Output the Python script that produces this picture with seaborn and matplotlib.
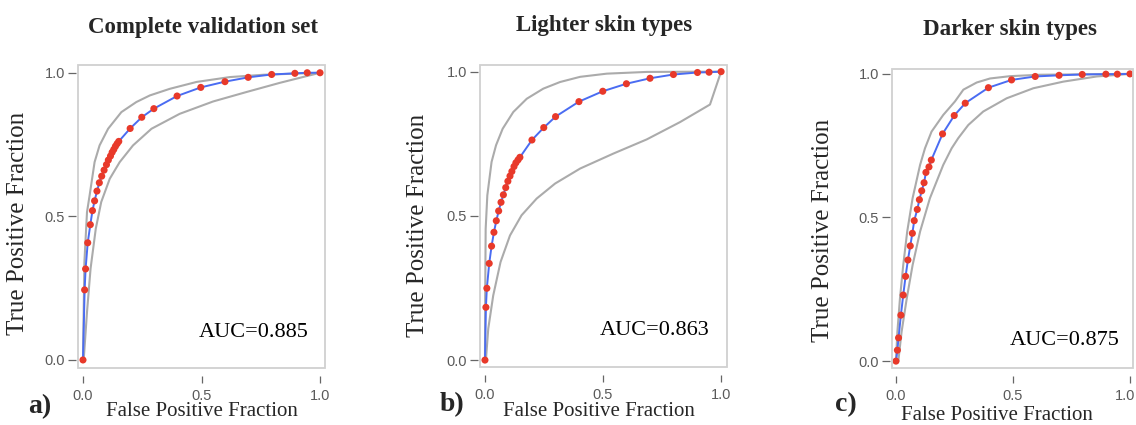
import numpy as np
import pandas as pd
import matplotlib
matplotlib.use('Agg')
import matplotlib.pyplot as plt
import matplotlib.transforms as mtransforms
from matplotlib.patches import Rectangle
import seaborn as sns

# ---- data ----
titles = ['Complete validation set', 'Lighter skin types', 'Darker skin types']
letters = ['a)', 'b)', 'c)']
auc_labels = ['AUC=0.885', 'AUC=0.863', 'AUC=0.875']

# a) complete validation set
fpr_a = [0, 0.007, 0.011, 0.020, 0.031, 0.040, 0.049, 0.059, 0.069, 0.079, 0.089, 0.099,
         0.107, 0.116, 0.123, 0.130, 0.137, 0.144, 0.151, 0.199, 0.248, 0.299, 0.397,
         0.497, 0.599, 0.697, 0.796, 0.894, 0.946, 1.0]
tpr_a = [0, 0.244, 0.317, 0.408, 0.471, 0.520, 0.554, 0.588, 0.617, 0.640, 0.661, 0.680,
         0.696, 0.710, 0.723, 0.733, 0.744, 0.753, 0.761, 0.806, 0.845, 0.875, 0.919,
         0.949, 0.969, 0.984, 0.994, 0.998, 1.0, 1.0]
up_x_a = [0, 0.006, 0.017, 0.028, 0.049, 0.070, 0.106, 0.162, 0.225, 0.282, 0.366, 0.479, 0.620, 0.761, 1.0]
up_y_a = [0, 0.341, 0.515, 0.573, 0.689, 0.747, 0.805, 0.863, 0.898, 0.921, 0.944, 0.968, 0.985, 0.993, 1.0]
lo_x_a = [0.003, 0.017, 0.032, 0.054, 0.077, 0.113, 0.155, 0.211, 0.289, 0.408, 0.549, 0.690, 0.831, 1.0]
lo_y_a = [0, 0.167, 0.318, 0.457, 0.550, 0.631, 0.689, 0.747, 0.805, 0.857, 0.900, 0.933, 0.965, 1.0]

# b) lighter skin types
fpr_b = [0, 0.004, 0.008, 0.018, 0.028, 0.038, 0.048, 0.058, 0.068, 0.078, 0.088, 0.097,
         0.106, 0.114, 0.123, 0.131, 0.140, 0.148, 0.199, 0.249, 0.299, 0.398, 0.499,
         0.599, 0.699, 0.798, 0.900, 0.949, 1.0]
tpr_b = [0, 0.183, 0.249, 0.335, 0.395, 0.443, 0.483, 0.517, 0.547, 0.573, 0.598, 0.620,
         0.638, 0.654, 0.671, 0.684, 0.694, 0.703, 0.763, 0.806, 0.844, 0.896, 0.932,
         0.958, 0.977, 0.990, 0.997, 0.998, 1.0]
up_x_b = [0, 0.001, 0.003, 0.010, 0.028, 0.047, 0.075, 0.120, 0.177, 0.247, 0.318, 0.403, 0.516, 0.685, 1.0]
up_y_b = [0, 0.224, 0.455, 0.571, 0.687, 0.745, 0.802, 0.860, 0.906, 0.941, 0.964, 0.982, 0.993, 0.999, 1.0]
lo_x_b = [0.004, 0.014, 0.035, 0.066, 0.106, 0.155, 0.219, 0.297, 0.403, 0.544, 0.685, 0.826, 0.953, 1.0]
lo_y_b = [0, 0.109, 0.224, 0.340, 0.432, 0.502, 0.560, 0.612, 0.664, 0.716, 0.765, 0.825, 0.886, 1.0]

# c) darker skin types
fpr_c = [0, 0.006, 0.011, 0.021, 0.031, 0.041, 0.051, 0.061, 0.070, 0.078, 0.091, 0.100,
         0.110, 0.120, 0.128, 0.141, 0.151, 0.199, 0.249, 0.296, 0.395, 0.494, 0.595,
         0.697, 0.796, 0.897, 0.946, 1.0]
tpr_c = [0, 0.038, 0.081, 0.160, 0.230, 0.295, 0.352, 0.401, 0.445, 0.489, 0.528, 0.562,
         0.593, 0.621, 0.657, 0.676, 0.700, 0.791, 0.855, 0.898, 0.952, 0.979, 0.991,
         0.995, 0.998, 0.999, 0.999, 1.0]
up_x_c = [0, 0.006, 0.017, 0.031, 0.048, 0.071, 0.103, 0.124, 0.152, 0.202, 0.252, 0.288, 0.345, 0.402, 0.487, 0.615, 1.0]
up_y_c = [0, 0.102, 0.218, 0.334, 0.451, 0.567, 0.683, 0.741, 0.799, 0.857, 0.904, 0.945, 0.970, 0.984, 0.992, 0.997, 1.0]
lo_x_c = [0.010, 0.024, 0.046, 0.071, 0.103, 0.145, 0.202, 0.238, 0.266, 0.309, 0.373, 0.473, 0.587, 0.715, 0.858, 1.0]
lo_y_c = [0, 0.102, 0.218, 0.334, 0.451, 0.567, 0.683, 0.741, 0.776, 0.822, 0.869, 0.915, 0.950, 0.973, 0.991, 1.0]

panels = [
    (fpr_a, tpr_a, up_x_a, up_y_a, lo_x_a, lo_y_a),
    (fpr_b, tpr_b, up_x_b, up_y_b, lo_x_b, lo_y_b),
    (fpr_c, tpr_c, up_x_c, up_y_c, lo_x_c, lo_y_c),
]

# ---- layout (pixels of the 1136x425 canvas) ----
W, H = 1136, 425
boxes = [(78, 65, 325, 368), (480, 65, 727, 367), (892, 69, 1133, 368)]
xlims = [(-0.021, 1.021), (-0.021, 1.025), (-0.017, 1.013)]
ylims = [(-0.028, 1.027), (-0.024, 1.023), (-0.024, 1.017)]
title_pos = [(203, 27), (604, 25), (1010, 30)]
ylab_pos = [(18, 223), (418, 225), (823, 230)]
xlab_pos = [(202, 412), (599, 411), (997, 416)]
letter_pos = [(40, 407), (452, 405), (846, 405)]
auc_pos = [(0.95, 0.097), (0.953, 0.104), (0.957, 0.073)]

sns.set_style('white')
plt.rcParams['font.family'] = ['Liberation Serif', 'DejaVu Serif']

blue = '#4a6cf2'
red = '#e8392a'
gray = '#ababab'
tick_gray = '#5a5a5a'

fig = plt.figure(figsize=(W / 100, H / 100), dpi=100)

for i, (fpr, tpr, ux, uy, lx, ly) in enumerate(panels):
    l, t, r, b = boxes[i]
    ax = fig.add_axes([l / W, 1 - b / H, (r - l) / W, (b - t) / H])

    sns.lineplot(x=ux, y=uy, sort=False, estimator=None, color=gray, lw=1.5, ax=ax)
    sns.lineplot(x=lx, y=ly, sort=False, estimator=None, color=gray, lw=1.5, ax=ax)
    df = pd.DataFrame({'fpr': fpr, 'tpr': tpr})
    sns.lineplot(data=df, x='fpr', y='tpr', sort=False, estimator=None, color=blue, lw=1.4, ax=ax)
    sns.scatterplot(data=df, x='fpr', y='tpr', color=red, s=26, edgecolor='none', ax=ax, zorder=4)

    ax.set_xlim(xlims[i])
    ax.set_ylim(ylims[i])
    ax.set_xlabel('')
    ax.set_ylabel('')
    ax.set_xticks([0, 0.5, 1.0])
    ax.set_yticks([0, 0.5, 1.0])
    ax.set_xticklabels(['0.0', '0.5', '1.0'])
    ax.set_yticklabels(['0.0', '0.5', '1.0'])

    for s in ax.spines.values():
        s.set_visible(False)
    ax.spines['bottom'].set_position(('outward', 6))
    ax.spines['left'].set_position(('outward', 1.5))
    ax.tick_params(axis='x', direction='out', length=5, width=0.9, color='#666666',
                   pad=4, labelsize=10.5, labelcolor=tick_gray, bottom=True)
    ax.tick_params(axis='y', direction='out', length=6, width=0.9, color='#666666',
                   pad=2, labelsize=10.5, labelcolor=tick_gray, left=True)
    for lab in ax.get_xticklabels() + ax.get_yticklabels():
        lab.set_family('Liberation Sans')
    if i == 2:
        # last label sits against the canvas edge, as in the reference
        last = ax.get_xticklabels()[-1]
        last.set_ha('right')
        last.set_transform(last.get_transform() +
                           mtransforms.ScaledTranslation(5 / 100, 0, fig.dpi_scale_trans))

    ax.add_patch(Rectangle((0, 0), 1, 1, transform=ax.transAxes, fill=False,
                           ec='#d0d0d0', lw=1.3, clip_on=False, zorder=5))

    ax.text(auc_pos[i][0], auc_pos[i][1], auc_labels[i], ha='right', va='center',
            fontsize=16, color='black')

    fig.text(title_pos[i][0] / W, 1 - title_pos[i][1] / H, titles[i],
             ha='center', va='center', fontsize=16.5, fontweight='bold')
    fig.text(ylab_pos[i][0] / W, 1 - ylab_pos[i][1] / H, 'True Positive Fraction',
             ha='center', va='center', rotation=90, fontsize=18)
    fig.text(xlab_pos[i][0] / W, 1 - xlab_pos[i][1] / H, 'False Positive Fraction',
             ha='center', va='center', fontsize=15)
    fig.text(letter_pos[i][0] / W, 1 - letter_pos[i][1] / H, letters[i],
             ha='center', va='center', fontsize=20, fontweight='bold')

fig.savefig('out.png', dpi=100, facecolor='white')
